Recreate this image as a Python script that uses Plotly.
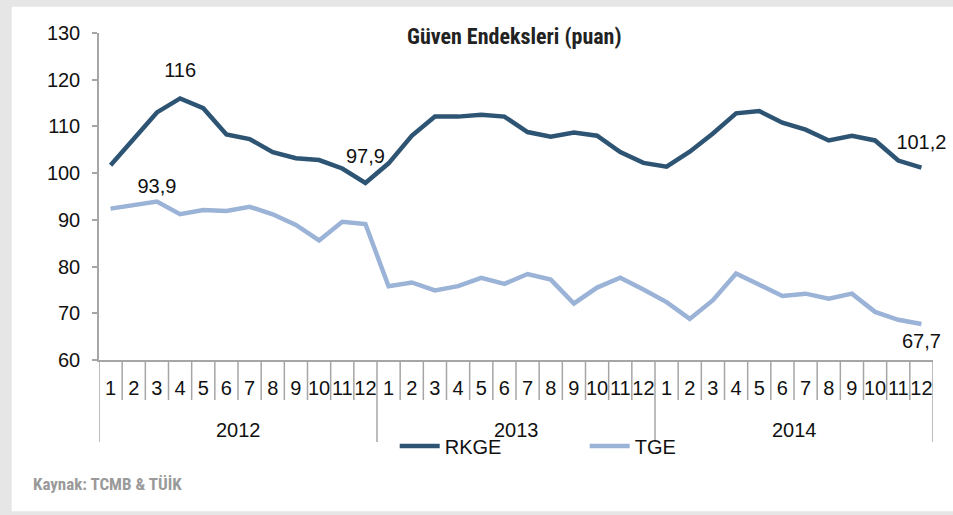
import plotly.graph_objects as go

years = ["2012"] * 12 + ["2013"] * 12 + ["2014"] * 12
months = [str(m) for m in range(1, 13)] * 3

rkge = [101.7, 107.2, 113.0, 116.0, 113.9, 108.3, 107.3, 104.5, 103.2, 102.8, 101.0, 97.9,
        102.1, 108.0, 112.1, 112.1, 112.5, 112.1, 108.8, 107.8, 108.7, 108.0, 104.5, 102.2,
        101.4, 104.6, 108.5, 112.8, 113.3, 110.8, 109.3, 107.0, 108.0, 107.0, 102.7, 101.2]
tge = [92.4, 93.2, 93.9, 91.2, 92.1, 91.9, 92.8, 91.2, 88.9, 85.6, 89.6, 89.1,
       75.8, 76.6, 74.9, 75.8, 77.6, 76.3, 78.4, 77.2, 72.1, 75.5, 77.6, 75.1,
       72.4, 68.8, 72.8, 78.5, 76.0, 73.7, 74.2, 73.1, 74.2, 70.3, 68.6, 67.7]

# index -> (text position, label offset marker size)
rkge_labels = {3: ("top center", 24), 11: ("top center", 22), 35: ("top center", 20)}
tge_labels = {2: ("top center", 4), 35: ("bottom center", 12)}

cats = [f"{y}-{m}" for y, m in zip(years, months)]

W, H = 953, 515
L, R, T, B = 99.3, 933.3, 33.3, 360.0


def px_x(px):
    return (px - L) / (R - L)


def px_y(py):
    return (B - py) / (B - T)


def fmt(v):
    s = f"{v:.1f}"
    if s.endswith(".0"):
        s = s[:-2]
    return s.replace(".", ",")


C_RK = "#2E5474"
C_TG = "#9BB3D7"
GRID = "#A6A6A6"
FONT = "Liberation Sans, Arial, sans-serif"
COND = "Roboto Condensed, Roboto, sans-serif"

fig = go.Figure()
fig.add_trace(go.Scatter(x=cats, y=rkge, mode="lines", name="RKGE",
                         line=dict(color=C_RK, width=4.5)))
fig.add_trace(go.Scatter(x=cats, y=tge, mode="lines", name="TGE",
                         line=dict(color=C_TG, width=4.5)))

for series, labels in ((rkge, rkge_labels), (tge, tge_labels)):
    idx = sorted(labels)
    fig.add_trace(go.Scatter(
        x=[cats[i] for i in idx],
        y=[series[i] for i in idx],
        mode="markers+text",
        text=[fmt(series[i]) for i in idx],
        textposition=[labels[i][0] for i in idx],
        textfont=dict(family=FONT, size=20, color="#111111"),
        marker=dict(size=[labels[i][1] for i in idx], opacity=0),
        showlegend=False, hoverinfo="skip", cliponaxis=False))

shapes = [
    dict(type="rect", xref="paper", yref="paper",
         x0=px_x(12), x1=px_x(W + 5), y0=px_y(511), y1=px_y(7),
         fillcolor="white", line=dict(width=0), layer="below"),
]
n = len(months)
for i in range(n + 1):
    is_year = i == 0 or i == n or years[i] != years[i - 1]
    shapes.append(dict(type="line", xref="x", yref="paper",
                       x0=i - 0.5, x1=i - 0.5, y0=0,
                       y1=px_y(442 if is_year else 400),
                       line=dict(color=GRID, width=1.5)))

annotations = [
    dict(text="<b>Güven Endeksleri (puan)</b>", xref="paper", yref="paper",
         x=px_x(515), y=px_y(37), showarrow=False, xanchor="center", yanchor="middle",
         font=dict(family=COND, size=22, color="#222222")),
    dict(text="<b>Kaynak: TCMB & TÜİK</b>", xref="paper", yref="paper",
         x=px_x(31), y=px_y(484), showarrow=False, xanchor="left", yanchor="middle",
         font=dict(family=COND, size=17, color="#9A9A9A")),
]
for yr in sorted(set(years)):
    pos = [i for i, y in enumerate(years) if y == yr]
    annotations.append(dict(text=yr, xref="x", yref="paper",
                            x=(pos[0] + pos[-1]) / 2, y=px_y(430), showarrow=False,
                            xanchor="center", yanchor="middle",
                            font=dict(family=FONT, size=20, color="#111111")))

fig.update_layout(
    width=W, height=H,
    paper_bgcolor="#E6E6E6", plot_bgcolor="white",
    margin=dict(l=L, r=W - R, t=T, b=H - B, autoexpand=False),
    shapes=shapes,
    annotations=annotations,
    showlegend=True,
    legend=dict(orientation="h", x=px_x(395), y=px_y(446), xanchor="left", yanchor="middle",
                font=dict(family=FONT, size=20, color="#111111"),
                bgcolor="rgba(0,0,0,0)", entrywidth=135, itemwidth=40,
                tracegroupgap=0),
)
fig.update_yaxes(range=[60, 130], dtick=10, ticks="outside", ticklen=5, tickcolor=GRID,
                 tickwidth=1.5, showline=True, linecolor=GRID, linewidth=1.5, showgrid=False,
                 zeroline=False, automargin=False, ticklabelstandoff=8,
                 tickfont=dict(family=FONT, size=20, color="#111111"))
fig.update_xaxes(type="category", range=[-0.5, n - 0.5], tickmode="array",
                 tickvals=cats, ticktext=months, tickangle=0, showline=True, linecolor=GRID,
                 linewidth=1.5, showgrid=False, ticks="outside", ticklen=9,
                 tickcolor="rgba(0,0,0,0)", automargin=False,
                 tickfont=dict(family=FONT, size=20, color="#111111"))

fig.write_html("out.html", config={"displayModeBar": False},
               post_script="document.body.style.margin='0';document.body.style.overflow='hidden';")
